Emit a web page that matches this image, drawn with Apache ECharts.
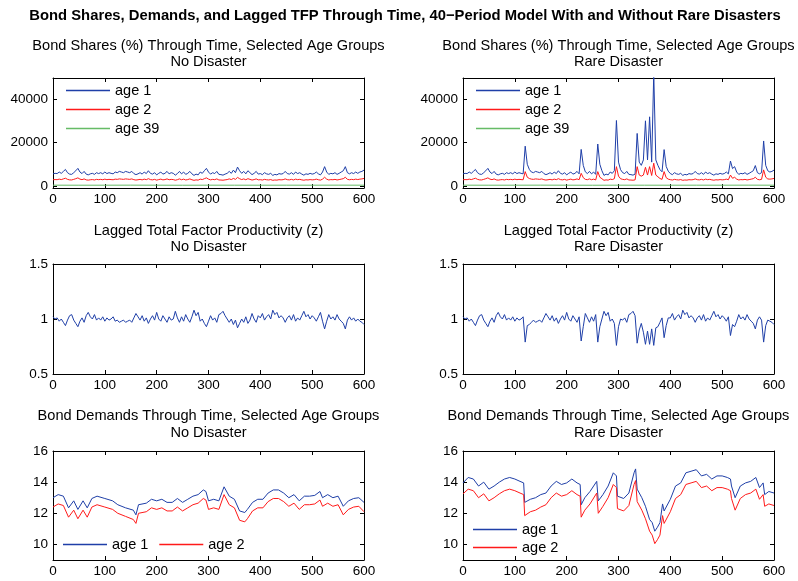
<!DOCTYPE html>
<html>
<head>
<meta charset="utf-8">
<script src="https://cdn.jsdelivr.net/npm/echarts@6/dist/echarts.min.js"></script>
<style>
html, body { margin: 0; padding: 0; background: #fff; }
#chart { width: 798px; height: 581px; }
</style>
</head>
<body>
<div id="chart"></div>
<script>
// periods 0..600, every 4th period
const periods = [];
for (let p = 0; p <= 600; p += 4) periods.push(p);
const greenPeriods = [0, 50, 100, 150, 200, 250, 300, 350, 400, 450, 500, 550, 600];

// bond shares (%), no disaster
const shareAge1 = [
  5560,5800,5680,6400,5800,6700,7600,6100,5440,5320,
  6100,7000,8100,6400,5680,6700,5440,5080,5560,5800,
  5320,6100,5680,6100,5560,6400,5680,6100,5800,5560,
  6400,6100,6700,6400,6100,6700,6400,6100,6700,5680,
  5200,5560,6100,5440,6400,5680,7000,5800,5440,6100,
  5080,5800,6400,5440,5800,6700,5560,6100,5800,4960,
  5680,6700,5560,6400,5320,5800,6700,5560,4840,5440,
  5080,6400,5800,7000,8100,6400,5440,6100,5680,6700,
  5320,5200,4960,5440,5800,6700,5800,7300,6100,8700,
  7000,5800,6700,5560,7000,6100,5200,5800,6700,5440,
  5680,5200,6100,5560,5320,5800,4840,5320,5080,5680,
  5440,5680,6700,5680,5440,6100,5320,6400,5680,6100,
  5440,4960,5560,5320,5800,5440,5680,6400,5560,5080,
  6400,8900,6400,5320,5800,5560,6100,5320,5800,6400,
  7000,8900,6100,5560,6100,5680,6400,5800,6400,6700,
  7300
];
const shareAge2 = [
  2820,2900,2860,3110,2900,3220,3530,3000,2770,2730,
  3000,3320,3700,3110,2860,3220,2770,2650,2820,2900,
  2730,3000,2860,3000,2820,3110,2860,3000,2900,2820,
  3110,3000,3220,3110,3000,3220,3110,3000,3220,2860,
  2690,2820,3000,2770,3110,2860,3320,2900,2770,3000,
  2650,2900,3110,2770,2900,3220,2820,3000,2900,2610,
  2860,3220,2820,3110,2730,2900,3220,2820,2560,2770,
  2650,3110,2900,3320,3700,3110,2770,3000,2860,3220,
  2730,2690,2610,2770,2900,3220,2900,3430,3000,3910,
  3320,2900,3220,2820,3320,3000,2690,2900,3220,2770,
  2860,2690,3000,2820,2730,2900,2560,2730,2650,2860,
  2770,2860,3220,2860,2770,3000,2730,3110,2860,3000,
  2770,2610,2820,2730,2900,2770,2860,3110,2820,2650,
  3110,3990,3110,2730,2900,2820,3000,2730,2900,3110,
  3320,3990,3000,2820,3000,2860,3110,2900,3110,3220,
  3430
];
const shareAge39 = [310,290,300,320,300,280,310,300,290,310,300,320,300];

// bond shares (%), rare disaster
const shareAge1Rare = [
  5560,5800,5680,6400,5800,6700,7600,6100,5440,5320,
  6100,7000,8100,6400,5680,6700,5440,5080,5560,5800,
  5320,6100,5680,6100,5560,6400,5680,6100,5800,5560,
  18400,10000,7600,6400,6100,6700,6400,6100,6700,5680,
  5200,5560,6100,5440,6400,5680,7000,5800,5440,6100,
  5080,5800,6400,5440,5800,6700,5560,16900,9500,6500,
  5680,6700,5560,6400,5320,19400,10000,7000,4840,5440,
  5080,6400,5800,7000,30300,11000,7500,6100,5680,6700,
  5320,5200,4960,5440,24300,11000,9500,12000,30150,12000,
  32000,11000,52000,12000,9500,7500,6500,16800,9000,6800,
  5680,5200,6100,5560,5320,5800,4840,5320,5080,5680,
  5440,5680,6700,5680,5440,6100,5320,6400,5680,6100,
  5440,4960,5560,5320,5800,5440,5680,6400,5560,11500,
  8000,8900,6400,5320,5800,5560,6100,5320,5800,6400,
  7000,9400,6100,5560,6100,20800,9500,7000,6400,6700,
  7300
];
const shareAge2Rare = [
  2820,2900,2860,3110,2900,3220,3530,3000,2770,2730,
  3000,3320,3700,3110,2860,3220,2770,2650,2820,2900,
  2730,3000,2860,3000,2820,3110,2860,3000,2900,2820,
  6600,4000,3400,3110,3000,3220,3110,3000,3220,2860,
  2690,2820,3000,2770,3110,2860,3320,2900,2770,3000,
  2650,2900,3110,2770,2900,3220,2820,5800,3800,3000,
  2860,3220,2820,3110,2730,6600,4000,3300,2560,2770,
  2650,3110,2900,3320,8900,4500,3300,3000,2860,3220,
  2730,2690,2610,2770,8900,5000,4500,5000,8600,5000,
  8900,4800,10500,5000,4200,3400,3000,6600,3800,3100,
  2860,2690,3000,2820,2730,2900,2560,2730,2650,2860,
  2770,2860,3220,2860,2770,3000,2730,3110,2860,3000,
  2770,2610,2820,2730,2900,2770,2860,3110,2820,5000,
  3500,3990,3110,2730,2900,2820,3000,2730,2900,3110,
  3320,3990,3000,2820,3000,7400,4000,3200,3110,3220,
  3430
];

// lagged TFP
const tfp = [
  1.02,1.00,1.01,0.98,1.00,0.97,0.94,0.99,1.03,1.04,
  0.99,0.96,0.93,0.98,1.01,0.97,1.03,1.06,1.02,1.00,
  1.04,0.99,1.01,0.99,1.02,0.98,1.01,0.99,1.00,1.02,
  0.98,0.99,0.97,0.98,0.99,0.97,0.98,0.99,0.97,1.01,
  1.05,1.02,0.99,1.03,0.98,1.01,0.96,1.00,1.03,0.99,
  1.06,1.00,0.98,1.03,1.00,0.97,1.02,0.99,1.00,1.07,
  1.01,0.97,1.02,0.98,1.04,1.00,0.97,1.02,1.08,1.03,
  1.06,0.98,1.00,0.96,0.93,0.98,1.03,0.99,1.01,0.97,
  1.04,1.05,1.07,1.03,1.00,0.97,1.00,0.95,0.99,0.92,
  0.96,1.00,0.97,1.02,0.96,0.99,1.05,1.00,0.97,1.03,
  1.01,1.05,0.99,1.02,1.04,1.00,1.08,1.04,1.06,1.01,
  1.03,1.01,0.97,1.01,1.03,0.99,1.04,0.98,1.01,0.99,
  1.03,1.07,1.02,1.04,1.00,1.03,1.01,0.98,1.02,1.06,
  0.98,0.91,0.98,1.04,1.00,1.02,0.99,1.04,1.00,0.98,
  0.96,0.91,0.99,1.02,0.99,1.01,0.98,1.00,0.98,0.97,
  0.95
];
const tfpRare = [
  1.02,1.00,1.01,0.98,1.00,0.97,0.94,0.99,1.03,1.04,
  0.99,0.96,0.93,0.98,1.01,0.97,1.03,1.06,1.02,1.00,
  1.04,0.99,1.01,0.99,1.02,0.98,1.01,0.99,1.00,1.02,
  0.79,0.94,0.95,0.97,0.99,0.97,0.98,0.99,0.97,1.01,
  1.05,1.02,0.99,1.03,0.98,1.01,0.96,1.00,1.03,0.99,
  1.06,1.00,0.98,1.03,1.00,0.97,1.02,0.80,0.93,1.05,
  1.01,0.97,1.02,0.98,1.04,0.79,0.93,1.00,1.07,1.03,
  1.06,0.98,1.00,0.96,0.76,0.93,1.00,0.99,1.01,0.97,
  1.04,1.05,1.07,1.03,0.78,0.90,0.96,0.88,0.77,0.89,
  0.77,0.91,0.76,0.92,0.93,0.97,1.01,0.83,0.94,1.01,
  1.01,1.05,0.99,1.02,1.04,1.00,1.08,1.04,1.06,1.01,
  1.03,1.01,0.97,1.01,1.03,0.99,1.04,0.98,1.01,0.99,
  1.03,1.07,1.02,1.04,1.00,1.03,1.01,0.98,1.02,0.85,
  0.95,0.93,0.98,1.04,1.00,1.02,0.99,1.04,1.00,0.98,
  0.96,0.91,0.99,1.02,0.99,0.79,0.94,0.99,0.98,0.97,
  0.95
];

// bond demands, [period, value]
const demandAge1 = [
  [0,13.0],[10,13.2],[20,13.1],[30,12.35],[40,12.8],[48,12.25],[58,12.8],[66,12.35],[75,12.95],[85,13.1],
  [100,12.95],[115,12.8],[125,12.55],[140,12.35],[155,12.2],[160,11.9],[165,12.55],[180,12.65],[190,12.9],[200,12.8],
  [210,12.9],[220,12.7],[230,12.7],[240,12.95],[250,12.7],[260,12.9],[270,13.1],[280,13.2],[290,13.5],[295,13.4],
  [300,12.8],[310,12.9],[320,12.8],[330,13.7],[340,13.1],[350,12.9],[360,12.15],[370,12.05],[375,12.25],[385,12.7],
  [395,12.9],[405,12.9],[415,13.3],[425,13.5],[435,13.5],[445,13.3],[455,13.0],[465,13.2],[475,12.8],[485,13.1],
  [495,13.1],[505,13.15],[515,13.4],[520,13.0],[530,13.2],[540,13.0],[550,13.1],[560,12.45],[570,12.8],[580,12.95],
  [590,13.0],[600,12.7]
];
const demandAge2 = [
  [0,12.4],[10,12.6],[20,12.5],[30,11.75],[40,12.2],[48,11.65],[58,12.2],[66,11.75],[75,12.4],[85,12.55],
  [100,12.4],[115,12.25],[125,12.0],[140,11.8],[155,11.6],[160,11.35],[165,12.0],[180,12.1],[190,12.35],[200,12.25],
  [210,12.35],[220,12.15],[230,12.15],[240,12.4],[250,12.15],[260,12.35],[270,12.55],[280,12.65],[290,12.95],[295,12.85],
  [300,12.25],[310,12.35],[320,12.25],[330,13.2],[340,12.55],[350,12.35],[360,11.55],[370,11.45],[375,11.65],[385,12.15],
  [395,12.35],[405,12.35],[415,12.75],[425,12.95],[435,12.95],[445,12.75],[455,12.45],[465,12.65],[475,12.25],[485,12.55],
  [495,12.55],[505,12.6],[515,12.85],[520,12.45],[530,12.65],[540,12.45],[550,12.55],[560,11.9],[570,12.25],[580,12.4],
  [590,12.45],[600,12.1]
];
const demandAge1Rare = [
  [0,13.95],[10,14.3],[20,14.2],[30,13.75],[40,14.0],[50,13.55],[60,13.75],[70,14.0],[80,14.2],[90,14.3],
  [100,14.2],[110,14.05],[117,13.95],[119,12.7],[130,12.9],[140,13.0],[150,13.2],[160,13.3],[170,13.75],[180,14.05],
  [190,13.85],[200,13.95],[210,14.2],[220,13.95],[226,13.85],[228,12.55],[235,13.0],[245,13.4],[258,14.05],[261,12.8],
  [270,13.2],[280,13.75],[290,14.6],[296,14.4],[298,13.1],[310,12.95],[320,13.3],[330,14.6],[333,14.85],[336,13.55],
  [345,13.0],[352,12.45],[360,11.6],[365,11.4],[370,10.85],[375,11.1],[380,11.4],[385,12.6],[388,12.15],[400,12.9],
  [410,13.75],[420,13.95],[430,14.6],[440,14.7],[450,14.8],[460,14.4],[470,14.5],[480,14.2],[490,14.4],[500,14.4],
  [510,14.3],[516,14.2],[518,13.75],[525,13.0],[535,13.75],[545,13.95],[555,14.05],[565,14.3],[572,13.65],[579,13.95],
  [582,13.2],[590,13.4],[600,13.3]
];
const demandAge2Rare = [
  [0,13.25],[10,13.55],[20,13.45],[30,13.0],[40,13.25],[50,12.8],[60,13.0],[70,13.25],[80,13.45],[90,13.55],
  [100,13.45],[110,13.3],[117,13.2],[119,11.85],[130,12.1],[140,12.2],[150,12.4],[160,12.55],[170,13.0],[180,13.3],
  [190,13.1],[200,13.2],[210,13.45],[220,13.2],[226,13.1],[228,11.75],[235,12.2],[245,12.6],[258,13.3],[261,12.0],
  [270,12.45],[280,13.0],[290,13.85],[296,13.65],[298,12.3],[310,12.15],[320,12.5],[330,13.85],[333,14.1],[336,12.75],
  [345,12.2],[352,11.65],[360,10.85],[365,10.6],[370,10.05],[375,10.3],[380,10.6],[385,11.85],[388,11.35],[400,12.1],
  [410,12.95],[420,13.2],[430,13.85],[440,13.95],[450,14.05],[460,13.65],[470,13.75],[480,13.45],[490,13.65],[500,13.65],
  [510,13.55],[516,13.45],[518,12.95],[525,12.2],[535,12.95],[545,13.2],[555,13.3],[565,13.55],[572,12.9],[579,13.2],
  [582,12.45],[590,12.6],[600,12.5]
];

const FONT = '"Liberation Sans", Arial, Helvetica, sans-serif';
const BLUE = '#1f3fa8';
const RED = '#ff1a1a';
const GREEN = '#66bb66';

const zip = (xs, ys) => xs.map((x, i) => [x, ys[i]]);

// 0 top-left, 1 top-right, 2 mid-left, 3 mid-right, 4 bottom-left, 5 bottom-right
const grids = [
  { left: 53, top: 78, width: 311, height: 110 },
  { left: 463, top: 78, width: 311, height: 110 },
  { left: 53, top: 264, width: 311, height: 110 },
  { left: 463, top: 264, width: 311, height: 110 },
  { left: 53, top: 451, width: 311, height: 109 },
  { left: 463, top: 451, width: 311, height: 109 }
];
const yRange = [
  { min: -1000, max: 50000, ticks: [0, 20000, 40000] },
  { min: 0.5, max: 1.5, ticks: [0.5, 1, 1.5] },
  { min: 9, max: 16, ticks: [10, 12, 14, 16] }
];

const xAxes = [];
const yAxes = [];
grids.forEach((g, i) => {
  [false, true].forEach(mirror => {
    xAxes.push({
      type: 'value', gridIndex: i, min: 0, max: 600, interval: 100,
      position: mirror ? 'top' : 'bottom',
      axisLine: { show: true, onZero: false, lineStyle: { color: '#000', width: 1 } },
      axisTick: { show: true, inside: true, length: 4, lineStyle: { color: '#000' } },
      axisLabel: { show: !mirror, color: '#000', fontSize: 13.5, margin: 4, fontFamily: FONT, showMinLabel: true, showMaxLabel: true },
      splitLine: { show: false }
    });
    const r = yRange[Math.floor(i / 2)];
    yAxes.push({
      type: 'value', gridIndex: i, min: r.min, max: r.max,
      position: mirror ? 'right' : 'left',
      axisLine: { show: true, onZero: false, lineStyle: { color: '#000', width: 1 } },
      axisTick: { show: true, inside: true, length: 4, customValues: r.ticks, lineStyle: { color: '#000' } },
      axisLabel: { show: !mirror, customValues: r.ticks, color: '#000', fontSize: 13.5, margin: 5, fontFamily: FONT,
        formatter: v => String(v) },
      splitLine: { show: false }
    });
  });
});

const line = (name, gi, data, color) => ({
  type: 'line', name: name, xAxisIndex: gi * 2, yAxisIndex: gi * 2, data: data,
  symbol: 'none', showSymbol: false, clip: true, silent: true,
  lineStyle: { width: 1, color: color }, itemStyle: { color: color }
});

const series = [
  line('age 1', 0, zip(periods, shareAge1), BLUE),
  line('age 2', 0, zip(periods, shareAge2), RED),
  line('age 39', 0, zip(greenPeriods, shareAge39), GREEN),
  line('age 1', 1, zip(periods, shareAge1Rare), BLUE),
  line('age 2', 1, zip(periods, shareAge2Rare), RED),
  line('age 39', 1, zip(greenPeriods, shareAge39), GREEN),
  line('tfp', 2, zip(periods, tfp), BLUE),
  line('tfp rare', 3, zip(periods, tfpRare), BLUE),
  line('age 1', 4, demandAge1, BLUE),
  line('age 2', 4, demandAge2, RED),
  line('age 1', 5, demandAge1Rare, BLUE),
  line('age 2', 5, demandAge2Rare, RED)
];

const legendBase = {
  icon: 'rect', itemWidth: 44, itemHeight: 1.5, padding: 0, selectedMode: false,
  textStyle: { fontSize: 14.5, color: '#000', fontFamily: FONT, lineHeight: 15 }
};
const legends = [
  Object.assign({}, legendBase, { data: ['age 1', 'age 2', 'age 39'], orient: 'vertical', left: 66, top: 83, itemGap: 4 }),
  Object.assign({}, legendBase, { data: ['age 1', 'age 2', 'age 39'], orient: 'vertical', left: 476, top: 83, itemGap: 4 }),
  Object.assign({}, legendBase, { data: ['age 1', 'age 2'], orient: 'horizontal', left: 63, top: 537, itemGap: 11 }),
  Object.assign({}, legendBase, { data: ['age 1', 'age 2'], orient: 'vertical', left: 473, top: 522, itemGap: 3 })
];

const txt = (x, y, s, bold) => ({
  type: 'text', x: x, y: y, silent: true,
  style: { text: s, align: 'center', verticalAlign: 'middle', fill: '#000',
    font: (bold ? 'bold 14.8px ' : '14.6px ') + FONT }
});
const graphics = [
  txt(405, 16, 'Bond Shares, Demands, and Lagged TFP Through Time, 40\u2212Period Model With and Without Rare Disasters', true),
  txt(208.5, 46, 'Bond Shares (%) Through Time, Selected Age Groups'),
  txt(208.5, 62, 'No Disaster'),
  txt(618.5, 46, 'Bond Shares (%) Through Time, Selected Age Groups'),
  txt(618.5, 62, 'Rare Disaster'),
  txt(208.5, 231, 'Lagged Total Factor Productivity (z)'),
  txt(208.5, 247, 'No Disaster'),
  txt(618.5, 231, 'Lagged Total Factor Productivity (z)'),
  txt(618.5, 247, 'Rare Disaster'),
  txt(208.5, 416, 'Bond Demands Through Time, Selected Age Groups'),
  txt(208.5, 433, 'No Disaster'),
  txt(618.5, 416, 'Bond Demands Through Time, Selected Age Groups'),
  txt(618.5, 433, 'Rare Disaster')
];

const chart = echarts.init(document.getElementById('chart'));
chart.setOption({
  animation: false,
  backgroundColor: '#fff',
  textStyle: { fontFamily: FONT },
  grid: grids,
  xAxis: xAxes,
  yAxis: yAxes,
  legend: legends,
  graphic: graphics,
  series: series
});
</script>
</body>
</html>
